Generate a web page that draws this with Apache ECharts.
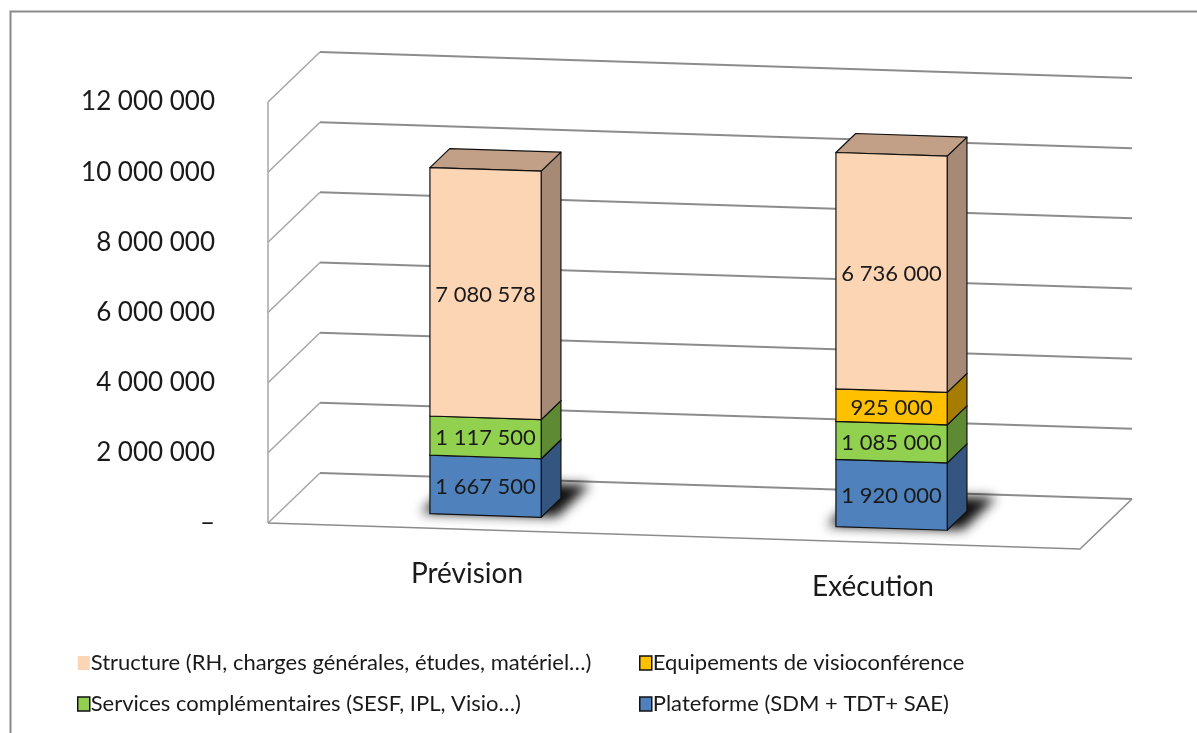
<!DOCTYPE html>
<html>
<head>
<meta charset="utf-8">
<script src="https://cdn.jsdelivr.net/npm/echarts@6/dist/echarts.min.js"></script>
<style>
  html, body { margin: 0; padding: 0; background: #fff; }
  #chart { width: 1197px; height: 733px; }
</style>
</head>
<body>
<div id="chart"></div>
<script>
// données
var categories = ['Prévision', 'Exécution'];
var plateforme = [1667500, 1920000];
var services = [1117500, 1085000];
var equipements = [0, 925000];
var structure = [7080578, 6736000];
var yTicks = [0, 2000000, 4000000, 6000000, 8000000, 10000000, 12000000];

var layerNames = [
    'Plateforme (SDM + TDT+ SAE)',
    'Services complémentaires (SESF, IPL, Visio…)',
    'Equipements de visioconférence',
    'Structure (RH, charges générales, études, matériel…)'
];
var layerValues = [plateforme, services, equipements, structure];
var layerColors = [
    { front: '#4F81BD', side: '#34557F', top: '#3F6A9C' },
    { front: '#92D050', side: '#5E8A33', top: '#76AE3E' },
    { front: '#FFC000', side: '#A67D00', top: '#CC9A00' },
    { front: '#FCD5B5', side: '#A68A76', top: '#C1A087' }
];

// géométrie pseudo 3D
var TILT = 0.032;
var DX = 52, DY = 50;
var D0 = 0.28, D1 = 0.66;
var BAR_W = 0.137;
var FONT = 'Lato, "Open Sans", sans-serif';

function fmt(v) {
    if (v === 0) return '–';
    return String(v).replace(/\B(?=(\d{3})+(?!\d))/g, ' ');
}

function projector(api) {
    var org = api.coord([0, 0]);
    return function (a, v, d) {
        var p = api.coord([a, v]);
        return [p[0] + d * DX, p[1] + (p[0] - org[0]) * TILT - d * DY];
    };
}

function catCenter(i) {
    return (i + 0.5) / categories.length;
}

var series = [];

// murs et quadrillage
series.push({
    type: 'custom',
    name: 'grid',
    coordinateSystem: 'cartesian2d',
    clip: false,
    z: 1,
    silent: true,
    data: yTicks.map(function (v) { return [0, v]; }),
    renderItem: function (params, api) {
        var P = projector(api);
        var v = api.value(1);
        var children = [{
            type: 'polyline',
            shape: { points: [P(0, v, 0), P(0, v, 1)] },
            style: { stroke: '#a6a6a6', lineWidth: 1.5, fill: null }
        }, {
            type: 'polyline',
            shape: { points: [P(0, v, 1), P(1, v, 1)] },
            style: { stroke: '#8c8c8c', lineWidth: 2, fill: null }
        }];
        if (v === 0) {
            children.push({
                type: 'polyline',
                shape: { points: [P(0, 0, 0), P(1, 0, 0), P(1, 0, 1)] },
                style: { stroke: '#8c8c8c', lineWidth: 1.5, fill: null }
            });
            var a = P(0, 0, 0), b = P(0, yTicks[yTicks.length - 1], 0);
            children.push({
                type: 'line',
                shape: { x1: a[0], y1: a[1], x2: b[0], y2: b[1] },
                style: { stroke: '#a6a6a6', lineWidth: 1.5 }
            });
        }
        return { type: 'group', children: children };
    }
});

// ombres au sol (forme hors écran, seule l'ombre floue est visible)
var OFF = 3000;
series.push({
    type: 'custom',
    name: 'shadow',
    coordinateSystem: 'cartesian2d',
    clip: false,
    z: 2,
    silent: true,
    data: categories.map(function (c, i) { return [i, 0]; }),
    renderItem: function (params, api) {
        var P = projector(api);
        var ac = catCenter(api.value(0));
        var a0 = ac - BAR_W / 2 - 0.012, a1 = ac + BAR_W / 2 + 0.018;
        var pts = [P(a0, 0, D0 + 0.02), P(a1, 0, D0 + 0.02), P(a1, 0, D1 + 0.28), P(a0, 0, D1 + 0.28)]
            .map(function (p) { return [p[0] + OFF, p[1]]; });
        return {
            type: 'polygon',
            shape: { points: pts },
            style: { fill: '#000', shadowBlur: 12, shadowColor: 'rgba(0,0,0,0.95)', shadowOffsetX: -OFF }
        };
    }
});

// étiquettes des catégories
series.push({
    type: 'custom',
    name: 'cats',
    coordinateSystem: 'cartesian2d',
    clip: false,
    z: 2,
    silent: true,
    data: categories.map(function (c, i) { return [i, 0]; }),
    renderItem: function (params, api) {
        var P = projector(api);
        var i = api.value(0);
        var p = P(catCenter(i), 0, 0);
        return {
            type: 'text',
            style: {
                text: categories[i], x: p[0] - 4, y: p[1] + 44,
                align: 'center', verticalAlign: 'middle',
                font: '28px ' + FONT, fill: '#1a1a1a'
            }
        };
    }
});

// couches empilées
layerNames.forEach(function (name, k) {
    var col = layerColors[k];
    series.push({
        type: 'custom',
        name: name,
        coordinateSystem: 'cartesian2d',
        clip: false,
        z: 3,
        itemStyle: { color: col.front },
        data: categories.map(function (c, i) {
            var base = 0;
            for (var j = 0; j < k; j++) base += layerValues[j][i];
            return [i, base, layerValues[k][i]];
        }),
        renderItem: function (params, api) {
            var val = api.value(2);
            if (!val) return null;
            var P = projector(api);
            var ac = catCenter(api.value(0));
            var a0 = ac - BAR_W / 2, a1 = ac + BAR_W / 2;
            var lo = api.value(1), hi = lo + val;
            var edge = { stroke: '#111', lineWidth: 1.2, lineJoin: 'round' };
            var front = [P(a0, lo, D0), P(a1, lo, D0), P(a1, hi, D0), P(a0, hi, D0)];
            var side = [P(a1, lo, D0), P(a1, lo, D1), P(a1, hi, D1), P(a1, hi, D0)];
            var top = [P(a0, hi, D0), P(a1, hi, D0), P(a1, hi, D1), P(a0, hi, D1)];
            var c = P(ac, lo + val / 2, D0);
            return {
                type: 'group',
                children: [
                    { type: 'polygon', shape: { points: side }, style: Object.assign({ fill: col.side }, edge) },
                    { type: 'polygon', shape: { points: top }, style: Object.assign({ fill: col.top }, edge) },
                    { type: 'polygon', shape: { points: front }, style: Object.assign({ fill: col.front }, edge) },
                    {
                        type: 'text',
                        style: {
                            text: fmt(val), x: c[0], y: c[1] + 1,
                            align: 'center', verticalAlign: 'middle',
                            font: '22px ' + FONT, fill: '#1a1a1a'
                        }
                    }
                ]
            };
        }
    });
});

function legendItem(k) {
    var st = k === 3 ? { borderWidth: 0 } : { borderColor: '#111', borderWidth: 1.5 };
    return { name: layerNames[k], itemStyle: st };
}

var legendCommon = {
    orient: 'vertical',
    icon: 'rect',
    itemWidth: 12,
    itemHeight: 14,
    itemGap: 17,
    selectedMode: false,
    textStyle: { fontFamily: FONT, fontSize: 22, color: '#1a1a1a', padding: [0, 0, 0, -4], lineHeight: 24 }
};

var chart = echarts.init(document.getElementById('chart'));
chart.setOption({
    animation: false,
    backgroundColor: '#fff',
    graphic: [{
        type: 'rect',
        left: 8, top: 9,
        shape: { width: 1300, height: 800 },
        style: { fill: null, stroke: '#8a8a8a', lineWidth: 2 }
    }],
    legend: [
        Object.assign({ left: 72, top: 646, data: [legendItem(3), legendItem(1)] }, legendCommon),
        Object.assign({ left: 634, top: 646, data: [legendItem(2), legendItem(0)] }, legendCommon)
    ],
    grid: { left: 268, top: 102, width: 812, height: 421 },
    xAxis: { type: 'value', min: 0, max: 1, show: false },
    yAxis: {
        type: 'value',
        min: 0,
        max: 12000000,
        interval: 2000000,
        axisLine: { show: false },
        axisTick: { show: false },
        splitLine: { show: false },
        axisLabel: {
            margin: 53,
            formatter: fmt,
            fontFamily: FONT,
            fontSize: 26,
            color: '#1a1a1a'
        }
    },
    series: series
});
</script>
</body>
</html>
